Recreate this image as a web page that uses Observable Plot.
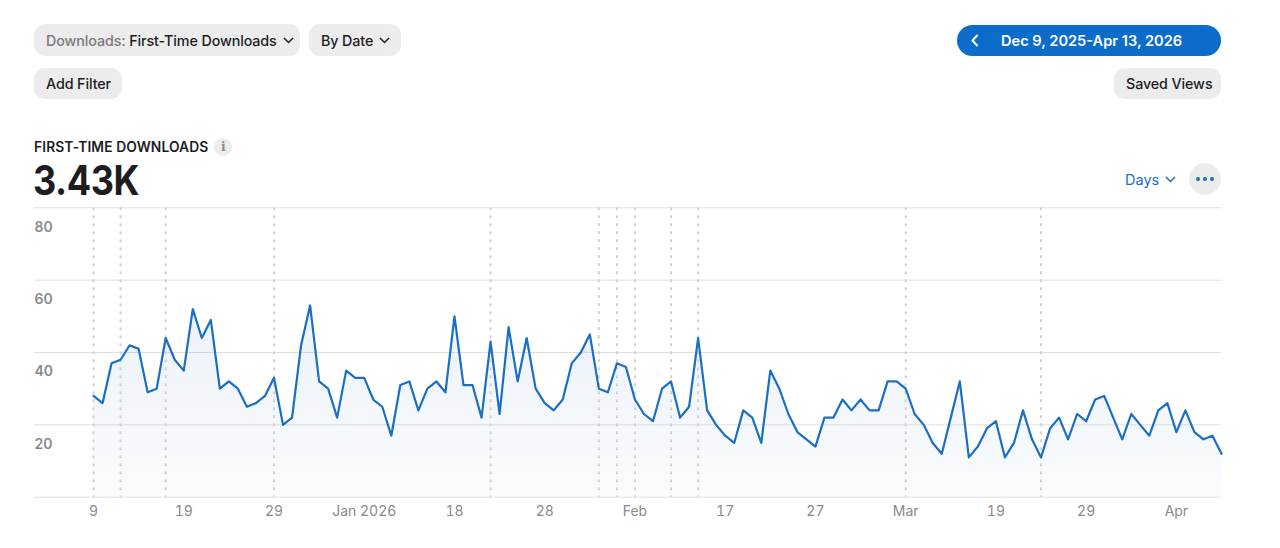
<!DOCTYPE html>
<html><head><meta charset="utf-8">
<script src="https://cdn.jsdelivr.net/npm/d3@7"></script>
<script src="https://cdn.jsdelivr.net/npm/@observablehq/plot@0.6"></script>
<style>
body{margin:0;width:1280px;height:548px;background:#fff;font-family:Inter,"Open Sans",sans-serif;position:relative;overflow:hidden;color:#1d1d1f}
.pill{position:absolute;background:#ececec;border-radius:11px;height:32px;display:flex;align-items:center;font-size:14.3px;font-weight:500;padding:0 12px;box-sizing:border-box;white-space:nowrap;color:#1d1d1f;letter-spacing:-0.1px}
.pill svg{margin-left:6px;flex-shrink:0}
.gray{color:#7b7b7b}
#range{position:absolute;left:957px;top:25px;width:264px;height:31px;border-radius:16px;background:#0b6cca;color:#fff;font-weight:600;font-size:14.6px;display:flex;align-items:center;box-sizing:border-box;white-space:nowrap}
#range svg{flex-shrink:0}
#title{position:absolute;left:34px;top:138px;font-size:13.8px;font-weight:600;letter-spacing:0.1px;display:flex;align-items:center;white-space:nowrap}
#info{display:inline-flex;width:18px;height:18px;border-radius:9px;background:#ececec;color:#8a8a8a;font-size:12px;align-items:center;justify-content:center;margin-left:6px;font-family:"DejaVu Serif",serif}
#big{position:absolute;left:33px;top:157px;font-size:41px;font-weight:700;letter-spacing:-0.5px;line-height:46px;transform:scaleX(0.88);transform-origin:left center;white-space:nowrap}
#days{position:absolute;left:1125px;top:171px;font-size:14.5px;color:#1a6ec4;display:flex;align-items:center}
#days svg{margin-left:6px;flex-shrink:0}
#more{position:absolute;left:1189px;top:163px;width:32px;height:32px;border-radius:16px;background:#ececec;display:flex;align-items:center;justify-content:center}
#chart{position:absolute;left:0;top:200px}
</style></head>
<body>
<div class="pill" style="left:34px;top:24px;width:266px"><span class="gray">Downloads:&nbsp;</span>First-Time Downloads<svg width="11" height="7" viewBox="0 0 11 7"><polyline points="1,1 5.5,5.5 10,1" fill="none" stroke="#1d1d1f" stroke-width="1.5"/></svg></div>
<div class="pill" style="left:309px;top:24px;width:92px">By Date<svg width="11" height="7" viewBox="0 0 11 7"><polyline points="1,1 5.5,5.5 10,1" fill="none" stroke="#1d1d1f" stroke-width="1.5"/></svg></div>
<div id="range"><svg style="margin-left:14px" width="8" height="13" viewBox="0 0 8 13"><polyline points="6.5,1 1.5,6.5 6.5,12" fill="none" stroke="#fff" stroke-width="2"/></svg><span style="margin-left:22px">Dec 9, 2025-Apr 13, 2026</span></div>
<div class="pill" style="left:34px;top:68px;width:88px;height:31px">Add Filter</div>
<div class="pill" style="left:1114px;top:68px;width:107px;height:31px">Saved Views</div>
<div id="title">FIRST-TIME DOWNLOADS<span id="info">i</span></div>
<div id="big">3.43K</div>
<div id="days">Days<svg width="11" height="7" viewBox="0 0 11 7"><polyline points="1,1 5.5,5.5 10,1" fill="none" stroke="#1a6ec4" stroke-width="1.5"/></svg></div>
<div id="more"><svg width="18" height="4" viewBox="0 0 18 4"><circle cx="2" cy="2" r="2" fill="#1a6ec4"/><circle cx="9" cy="2" r="2" fill="#1a6ec4"/><circle cx="16" cy="2" r="2" fill="#1a6ec4"/></svg></div>
<div id="chart"></div>
<script>
// Daily first-time downloads, Dec 9, 2025 – Apr 13, 2026
const startDay = "2025-12-09";
const endDay = "2026-04-13";
const downloads = [
  28,26,37,38,42,41,29,30,44,38,
  35,52,44,49,30,32,30,25,26,28,
  33,20,22,42,53,32,30,22,35,33,
  33,27,25,17,31,32,24,30,32,29,
  50,31,31,22,43,23,47,32,44,30,
  26,24,27,37,40,45,30,29,37,36,
  27,23,21,30,32,22,25,44,24,20,
  17,15,24,22,15,35,30,23,18,16,
  14,22,22,27,24,27,24,24,32,32,
  30,23,20,15,12,22,32,11,14,19,
  21,11,15,24,16,11,19,22,16,23,
  21,27,28,22,16,23,20,17,24,26,
  18,24,18,16,17,12
];
const yTicks = [0, 20, 40, 60, 80];
const xTickDates = ["2025-12-09","2025-12-19","2025-12-29","2026-01-08","2026-01-18","2026-01-28","2026-02-07","2026-02-17","2026-02-27","2026-03-09","2026-03-19","2026-03-29","2026-04-08"];
const xTickLabels = ["9","19","29","Jan 2026","18","28","Feb","17","27","Mar","19","29","Apr"];
const markerDates = ["2025-12-09","2025-12-12","2025-12-17","2025-12-29","2026-01-22","2026-02-03","2026-02-05","2026-02-07","2026-02-11","2026-02-14","2026-03-09","2026-03-24"];

const DAY = 864e5;
const t0 = new Date(startDay + "T00:00:00Z");
const data = downloads.map((v, i) => ({date: new Date(+t0 + i * DAY), value: v}));
const tickDates = xTickDates.map(s => new Date(s + "T00:00:00Z"));
const labelMap = new Map(tickDates.map((d, i) => [+d, xTickLabels[i]]));
const markers = markerDates.map(s => new Date(s + "T00:00:00Z"));

const defs = () => {
  const s = d3.create("svg:defs");
  const g = s.append("linearGradient").attr("id", "dlgrad").attr("x1", 0).attr("x2", 0).attr("y1", 0).attr("y2", 1);
  g.append("stop").attr("offset", "0%").attr("stop-color", "#2a6fc0").attr("stop-opacity", 0.09);
  g.append("stop").attr("offset", "100%").attr("stop-color", "#2a6fc0").attr("stop-opacity", 0.025);
  return s.node();
};

const chart = Plot.plot({
  width: 1280,
  height: 340,
  marginLeft: 34,
  marginRight: 59,
  marginTop: 7.3,
  marginBottom: 43.3,
  x: {type: "utc", domain: [new Date(+t0 - 6.54 * DAY), new Date(endDay + "T00:00:00Z")]},
  y: {domain: [0, 80], axis: null},
  style: {fontFamily: "Inter, 'Open Sans', sans-serif", fontSize: "14px", color: "#8a8a8a", background: "transparent"},
  marks: [
    defs,
    Plot.ruleY(yTicks, {stroke: "#dfdfdf", strokeWidth: 1}),
    Plot.areaY(data, {x: "date", y: "value", fill: "url(#dlgrad)"}),
    Plot.ruleX(markers, {stroke: "#d2d2d2", strokeWidth: 2, strokeDasharray: "3,5"}),
    Plot.lineY(data, {x: "date", y: "value", stroke: "#1a6ec4", strokeWidth: 2.2, strokeLinejoin: "round"}),
    Plot.text(yTicks.filter(d => d > 0), {y: d => d, text: d => String(d), frameAnchor: "left", textAnchor: "start", dy: 19.5, fill: "#8a8a8a", fontSize: 14, fontWeight: 600}),
    Plot.axisX({ticks: tickDates, tickFormat: d => labelMap.get(+d), tickSize: 0, tickPadding: 9, fontSize: 14, label: null})
  ]
});
document.getElementById("chart").appendChild(chart);
</script>
</body></html>
